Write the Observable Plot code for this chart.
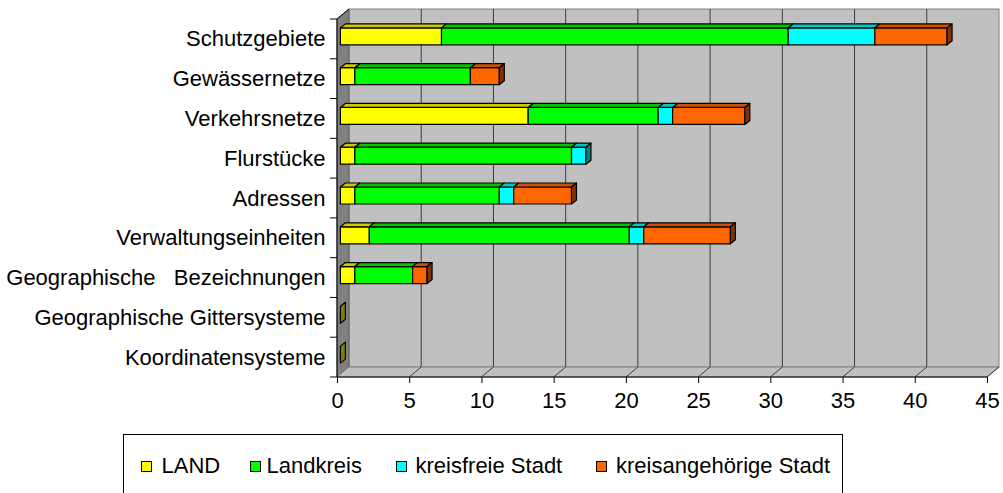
<!DOCTYPE html>
<html>
<head>
<meta charset="utf-8">
<script src="https://cdn.jsdelivr.net/npm/d3@7"></script>
<script src="https://cdn.jsdelivr.net/npm/@observablehq/plot@0.6"></script>
<style>
  body { margin: 0; background: #fff; font-family: "Liberation Sans", Arial, sans-serif; }
  #chart svg text { white-space: pre; }
  #legend { height: 59px; overflow: hidden; }
</style>
</head>
<body>
<div id="chart"></div>
<div id="legend"></div>
<script>
// ---- data ----
const categories = [
  "Schutzgebiete",
  "Gewässernetze",
  "Verkehrsnetze",
  "Flurstücke",
  "Adressen",
  "Verwaltungseinheiten",
  "Geographische   Bezeichnungen",
  "Geographische Gittersysteme",
  "Koordinatensysteme"
];
const seriesNames = ["LAND", "Landkreis", "kreisfreie Stadt", "kreisangehörige Stadt"];
const landValues       = [7, 1, 13, 1, 1, 2, 1, 0, 0];
const landkreisValues  = [24, 8, 9, 15, 10, 18, 4, 0, 0];
const kreisfreieValues = [6, 0, 1, 1, 1, 1, 0, 0, 0];
const kreisangValues   = [5, 2, 5, 0, 4, 6, 1, 0, 0];
const xTicks = [0, 5, 10, 15, 20, 25, 30, 35, 40, 45];

// ---- styles ----
const frontColors = ["#FFFF00", "#00FF00", "#00FFFF", "#FF6600"];
const topColors   = ["#CCCC00", "#00C800", "#00C8C8", "#CC5200"];
const sideColors  = ["#808000", "#008000", "#008080", "#7F3300"];

const valuesBySeries = [landValues, landkreisValues, kreisfreieValues, kreisangValues];
const segments = [];
categories.forEach((cat, i) => {
  let acc = 0;
  let lastIdx = 0;
  valuesBySeries.forEach((vals, s) => { if (vals[i] > 0) lastIdx = s; });
  valuesBySeries.forEach((vals, s) => {
    const v = vals[i];
    const seg = {cat, s, series: seriesNames[s], value: v, x1: acc, x2: acc + v, last: s === lastIdx};
    acc += v;
    if (v > 0 || seg.last) segments.push(seg);
  });
});

// wall depth offset and bar geometry (pixels)
const WX = 12, WY = -10;
const BAR_H = 17, BAR_OX = 3.4, BAR_OY = -2.5, DX = 5, DY = -4;

const pts = (arr) => arr.map(p => p.join(",")).join(" ");

function renderDecor(index, scales, values, dim) {
  const {x, y} = scales;
  const L = x(0), R = x(45);
  const T = dim.marginTop, B = dim.height - dim.marginBottom;
  const g = d3.create("svg:g");
  g.append("rect").attr("x", L + WX).attr("y", T + WY).attr("width", R - L).attr("height", B - T)
    .attr("fill", "#C0C0C0").attr("stroke", "#808080");
  for (const t of xTicks.slice(1, -1)) {
    g.append("line").attr("x1", x(t) + WX).attr("x2", x(t) + WX).attr("y1", T + WY).attr("y2", B + WY)
      .attr("stroke", "#3c3c3c");
  }
  g.append("polygon").attr("points", pts([[L, T], [L + WX, T + WY], [L + WX, B + WY], [L, B]]))
    .attr("fill", "#808080").attr("stroke", "#606060");
  g.append("polygon").attr("points", pts([[L, B], [L + WX, B + WY], [R + WX, B + WY], [R, B]]))
    .attr("fill", "#C0C0C0").attr("stroke", "#808080");
  for (const t of xTicks.slice(1)) {
    g.append("line").attr("x1", x(t)).attr("y1", B).attr("x2", x(t) + WX).attr("y2", B + WY)
      .attr("stroke", "#3c3c3c");
  }
  g.append("line").attr("x1", L).attr("y1", T).attr("x2", L + WX).attr("y2", T + WY).attr("stroke", "#000");
  g.append("line").attr("x1", L).attr("y1", T).attr("x2", L).attr("y2", B).attr("stroke", "#000");
  g.append("line").attr("x1", L - 7).attr("y1", B).attr("x2", R).attr("y2", B).attr("stroke", "#000");
  const step = y.step();
  const y0 = y(categories[0]);
  for (let k = 0; k < categories.length; k++) {
    const yy = y0 + k * step;
    g.append("line").attr("x1", L - 7).attr("x2", L).attr("y1", yy).attr("y2", yy).attr("stroke", "#000");
  }
  return g.node();
}

function renderBars(index, scales, values) {
  const bw = scales.y.bandwidth();
  const g = d3.create("svg:g").attr("stroke", "#000").attr("stroke-width", 1.2).attr("stroke-linejoin", "round");
  for (const i of index) {
    const d = segments[i];
    const x1 = values.x1[i] + BAR_OX, x2 = values.x2[i] + BAR_OX;
    const top = values.y[i] + (bw - BAR_H) / 2 + BAR_OY, bot = top + BAR_H;
    if (d.value > 0) {
      g.append("rect").attr("x", x1).attr("y", top).attr("width", x2 - x1).attr("height", BAR_H)
        .attr("fill", frontColors[d.s]);
      g.append("polygon").attr("points", pts([[x1, top], [x1 + DX, top + DY], [x2 + DX, top + DY], [x2, top]]))
        .attr("fill", topColors[d.s]);
    }
    if (d.last) {
      g.append("polygon").attr("points", pts([[x2, top], [x2 + DX, top + DY], [x2 + DX, bot + DY], [x2, bot]]))
        .attr("fill", sideColors[d.s]);
    }
  }
  return g.node();
}

const chart = Plot.plot({
  width: 1003,
  height: 434,
  marginTop: 19,
  marginBottom: 57,
  marginLeft: 337,
  marginRight: 16,
  style: {fontSize: "22px", fontFamily: "'Liberation Sans', Arial, sans-serif", color: "#000", background: "#fff"},
  x: {domain: [0, 45], ticks: xTicks, tickSize: 6, tickPadding: 9, label: null},
  y: {domain: categories, padding: 0, round: false, tickSize: 0, tickPadding: 12, label: null},
  marks: [
    Plot.frame({stroke: "none", render: renderDecor}),
    Plot.barX(segments, {x1: "x1", x2: "x2", y: "cat", render: renderBars})
  ]
});
document.getElementById("chart").appendChild(chart);

// ---- legend (below the plot) ----
const legendLayout = [
  {sq: 141, tx: 161.5},
  {sq: 250, tx: 266.5},
  {sq: 396, tx: 415.5},
  {sq: 596, tx: 616}
];
const lg = d3.select("#legend").append("svg").attr("width", 1003).attr("height", 59)
  .style("display", "block");
lg.append("rect").attr("x", 123.5).attr("y", 0.5).attr("width", 719).attr("height", 120)
  .attr("fill", "#fff").attr("stroke", "#000");
seriesNames.forEach((name, s) => {
  const p = legendLayout[s];
  lg.append("rect").attr("x", p.sq + 0.5).attr("y", 27.5).attr("width", 10).attr("height", 10)
    .attr("fill", frontColors[s]).attr("stroke", "#000");
  lg.append("text").attr("x", p.tx).attr("y", 38.5)
    .style("font-size", "22px")
    .style("font-family", "'Liberation Sans', Arial, sans-serif")
    .text(name);
});
</script>
</body>
</html>
